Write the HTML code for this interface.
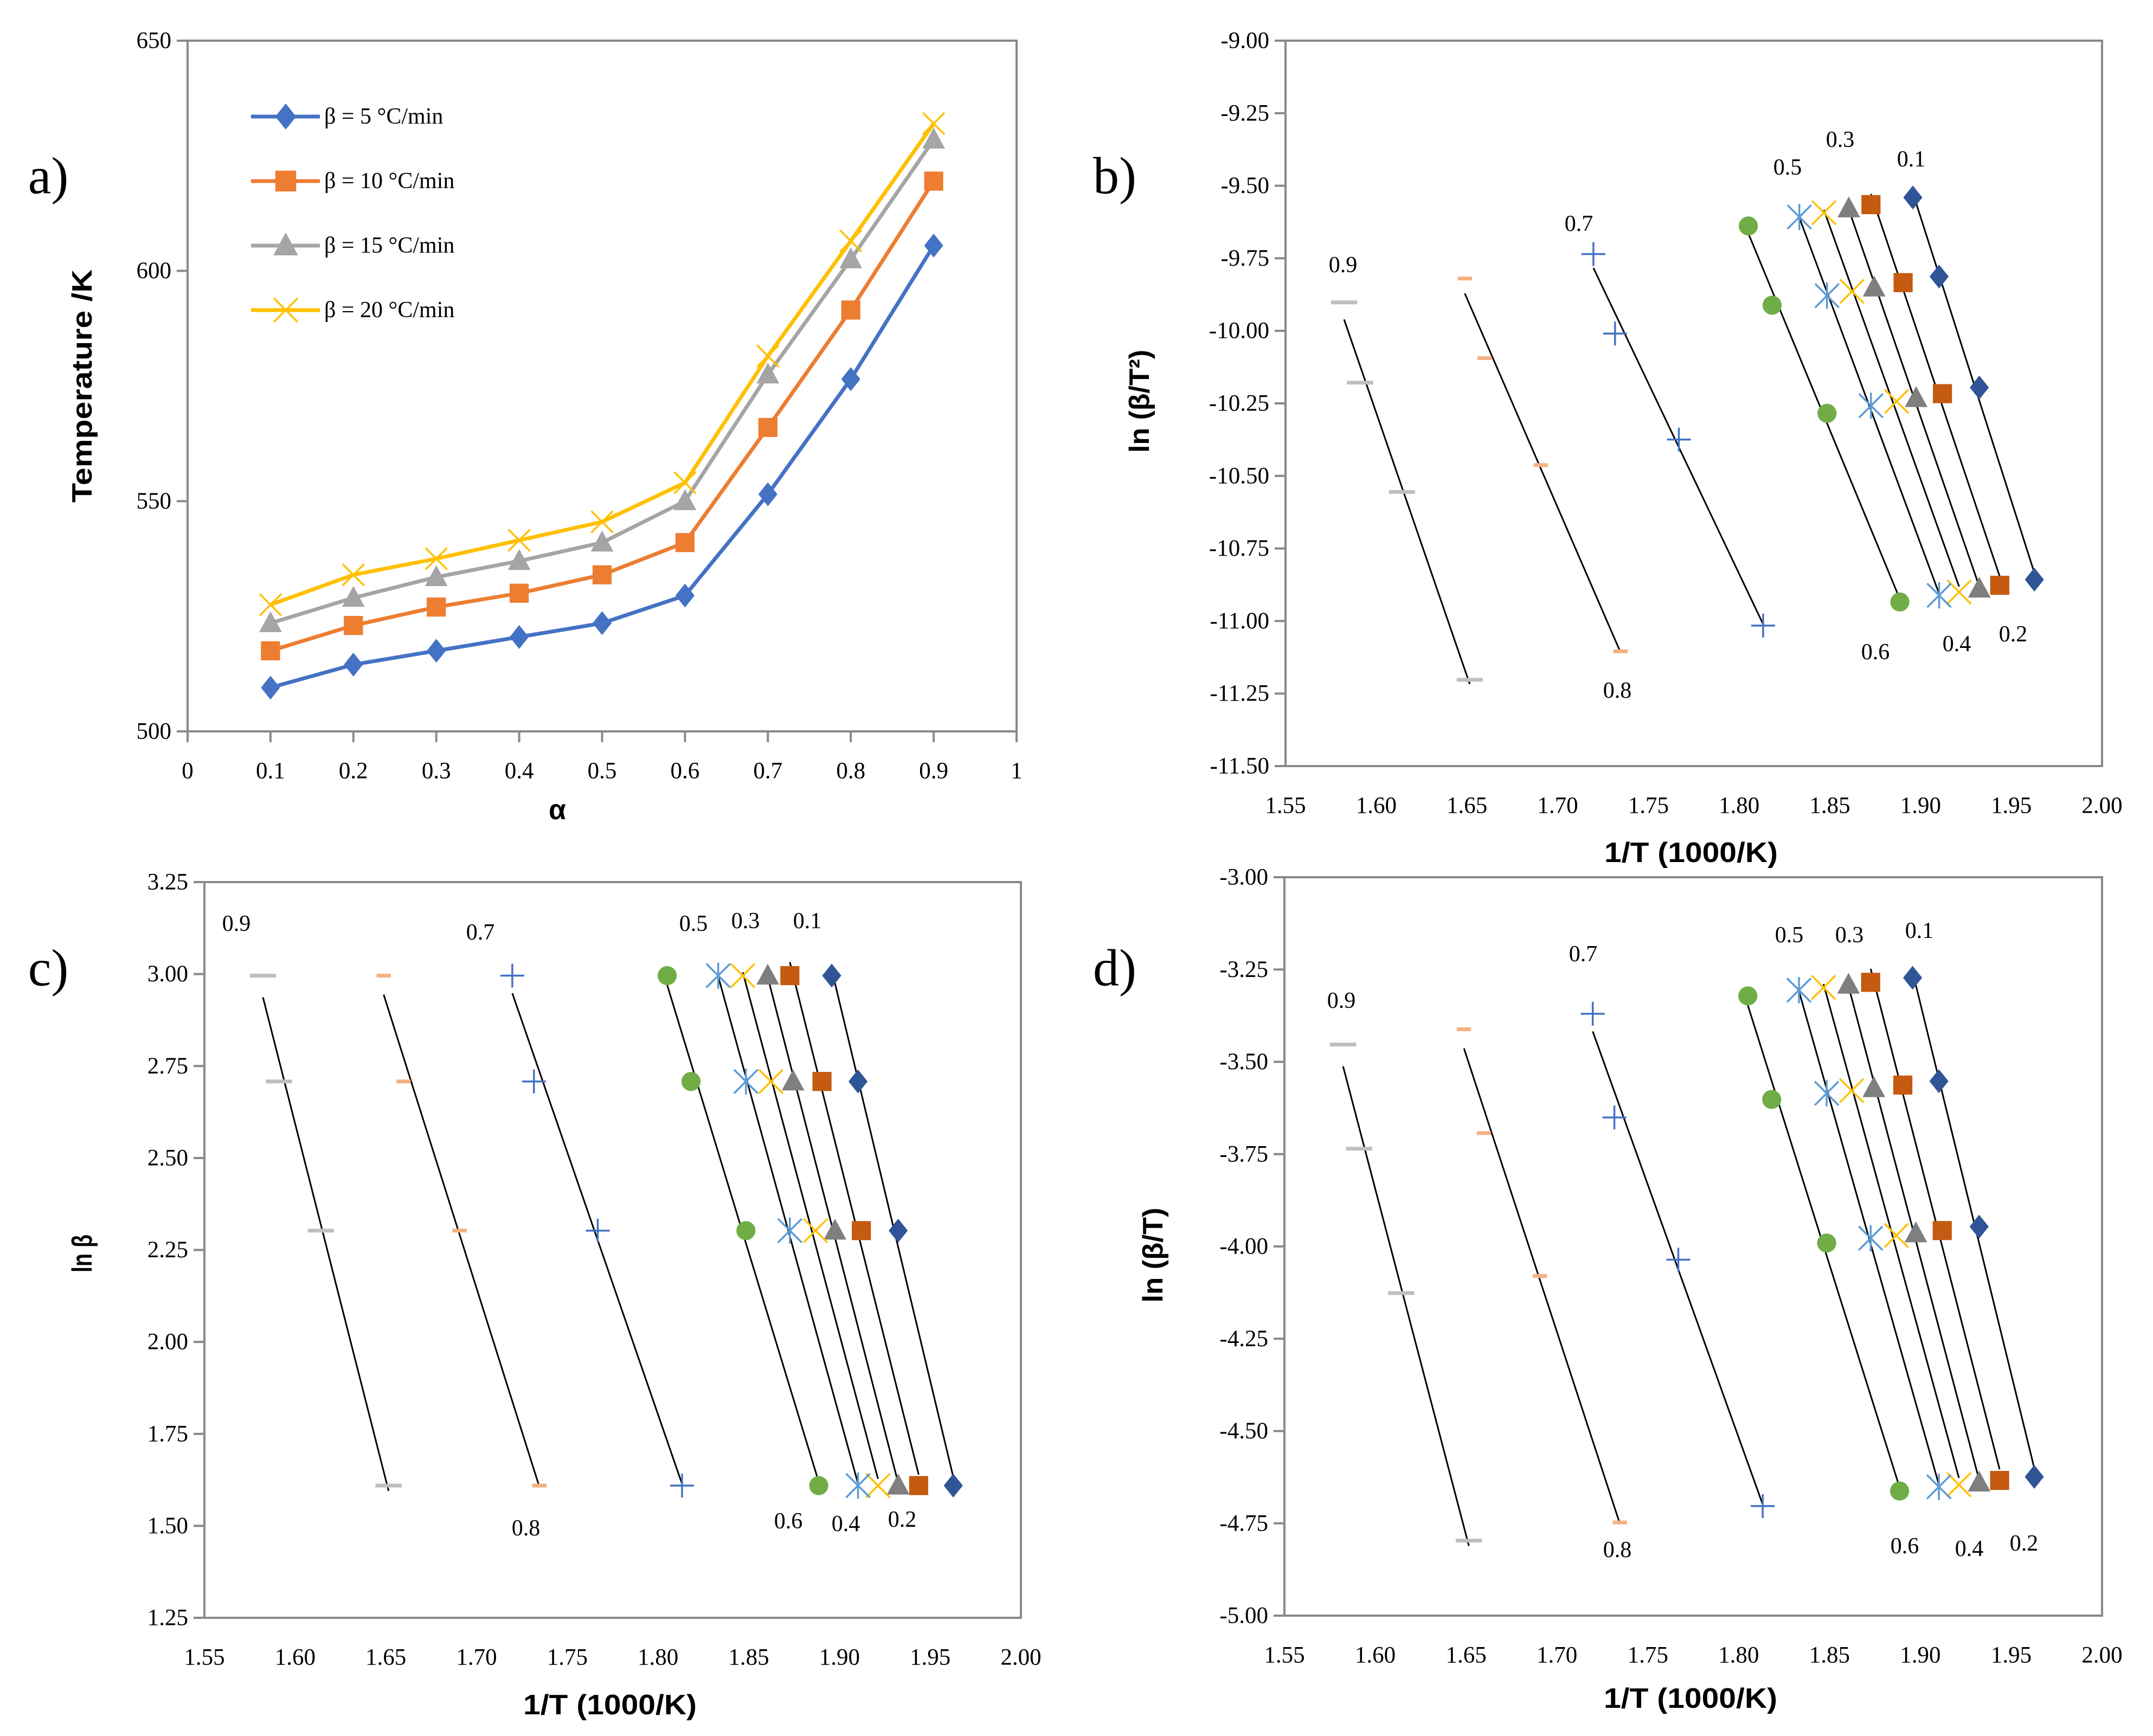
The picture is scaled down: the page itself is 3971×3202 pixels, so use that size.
<!DOCTYPE html>
<html>
<head>
<meta charset="utf-8">
<style>
  html,body{margin:0;padding:0;background:#fff;}
  svg{display:block;}
  .tick{font-family:"Liberation Serif",serif;font-size:43px;fill:#000;}
  .ttl{font-family:"Liberation Sans",sans-serif;font-weight:bold;font-size:52px;fill:#000;}
  .lbl{font-family:"Liberation Serif",serif;font-size:42px;fill:#000;}
  .pl{font-family:"Liberation Serif",serif;font-size:96px;fill:#000;}
</style>
</head>
<body>
<svg id="fig" width="3971" height="3202" viewBox="0 0 3971 3202" xmlns="http://www.w3.org/2000/svg">
  <rect x="0" y="0" width="3971" height="3202" fill="#fff"/>
</svg>
<script>
// ---- data ----
const alphas = [0.1, 0.2, 0.3, 0.4, 0.5, 0.6, 0.7, 0.8, 0.9];
const betas = [5, 10, 15, 20];
const temp5 = [509.5, 514.5, 517.5, 520.5, 523.5, 529.5, 551.5, 576.5, 605.5];
const temp10 = [517.5, 523, 527, 530, 534, 541, 566, 591.5, 619.5];
const temp15 = [523.5, 529, 533.5, 537, 541, 550, 577.5, 602.5, 628.5];
const temp20 = [527.5, 534, 537.5, 541.5, 545.5, 554, 581.5, 606.5, 632];
const legendLabels = ["β = 5 °C/min", "β = 10 °C/min", "β = 15 °C/min", "β = 20 °C/min"];
const aXTicks = [0, 0.1, 0.2, 0.3, 0.4, 0.5, 0.6, 0.7, 0.8, 0.9, 1];
const aYTicks = [500, 550, 600, 650];
const invTTicks = [1.55, 1.60, 1.65, 1.70, 1.75, 1.80, 1.85, 1.90, 1.95, 2.00];
const bYTicks = [-9.00, -9.25, -9.50, -9.75, -10.00, -10.25, -10.50, -10.75, -11.00, -11.25, -11.50];
const cYTicks = [3.25, 3.00, 2.75, 2.50, 2.25, 2.00, 1.75, 1.50, 1.25];
const dYTicks = [-3.00, -3.25, -3.50, -3.75, -4.00, -4.25, -4.50, -4.75, -5.00];
const alphaLabels = ["0.1","0.2","0.3","0.4","0.5","0.6","0.7","0.8","0.9"];

const temps = [temp5, temp10, temp15, temp20];
const NS = "http://www.w3.org/2000/svg";
const svg = document.getElementById('fig');

function el(tag, attrs, parent) {
  const e = document.createElementNS(NS, tag);
  for (const k in attrs) e.setAttribute(k, attrs[k]);
  (parent || svg).appendChild(e);
  return e;
}
function mkScale(d0, d1, r0, r1) { return v => r0 + (v - d0) / (d1 - d0) * (r1 - r0); }

const aColors = ["#4472C4", "#ED7D31", "#A5A5A5", "#FFC000"];
const aMarkers = ["diamond", "square", "triangle", "x"];
const kMarkers = ["diamond","square","triangle","x","star","circle","plus","dash","dash"];
const kColors = ["#2F5597","#C55A11","#7F7F7F","#FFC000","#5B9BD5","#70AD47","#4472C4","#F4B183","#BFBFBF"];

function marker(g, type, cx, cy, color, s, name) {
  let m;
  if (type === "diamond") {
    m = el('polygon', {points:`${cx},${cy-s} ${cx+s*0.8},${cy} ${cx},${cy+s} ${cx-s*0.8},${cy}`, fill:color}, g);
  } else if (type === "square") {
    m = el('rect', {x:cx-s*0.8, y:cy-s*0.8, width:s*1.6, height:s*1.6, fill:color}, g);
  } else if (type === "triangle") {
    m = el('polygon', {points:`${cx},${cy-s} ${cx+s*0.95},${cy+s*0.75} ${cx-s*0.95},${cy+s*0.75}`, fill:color}, g);
  } else if (type === "circle") {
    m = el('circle', {cx:cx, cy:cy, r:s*0.8, fill:color}, g);
  } else if (type === "x") {
    m = el('path', {d:`M${cx-s},${cy-s}L${cx+s},${cy+s}M${cx-s},${cy+s}L${cx+s},${cy-s}`, stroke:color, 'stroke-width':3.5, fill:'none'}, g);
  } else if (type === "star") {
    m = el('path', {d:`M${cx-s},${cy-s}L${cx+s},${cy+s}M${cx-s},${cy+s}L${cx+s},${cy-s}M${cx},${cy-s*1.1}L${cx},${cy+s*1.1}`, stroke:color, 'stroke-width':3.5, fill:'none'}, g);
  } else if (type === "plus") {
    m = el('path', {d:`M${cx-s},${cy}L${cx+s},${cy}M${cx},${cy-s}L${cx},${cy+s}`, stroke:color, 'stroke-width':3.5, fill:'none'}, g);
  } else {
    const w = color === "#BFBFBF" ? s*1.1 : s*0.6;
    m = el('rect', {x:cx-w, y:cy-3.5, width:w*2, height:7, fill:color}, g);
  }
  
  
  return m;
}

function frame(p, name) {
  const r = el('rect', {x:p.x0, y:p.y0, width:p.x1-p.x0, height:p.y1-p.y0, fill:'none', stroke:'#898989', 'stroke-width':4});
  
  
}
function text(x, y, s, cls, name, anchor, extra) {
  const t = el('text', Object.assign({x:x, y:y, class:cls, 'text-anchor':anchor||'middle', 'dominant-baseline':'central'}, extra||{}));
  t.textContent = s;
  
  
  return t;
}

// ---------- Panel a ----------
const A = {x0:346, x1:1875, y0:75, y1:1349};
const ax = mkScale(0, 1, A.x0, A.x1), ay = mkScale(500, 650, A.y1, A.y0);
frame(A, 'panel-a-plot-frame');
aYTicks.forEach(v => {
  el('line', {x1:A.x0-20, x2:A.x0, y1:ay(v), y2:ay(v), stroke:'#898989', 'stroke-width':4});
  text(A.x0-30, ay(v), String(v), 'tick', 'a-y-tick-label', 'end');
});
aXTicks.forEach(v => {
  el('line', {x1:ax(v), x2:ax(v), y1:A.y1, y2:A.y1+20, stroke:'#898989', 'stroke-width':4});
  text(ax(v), A.y1+73, String(v), 'tick', 'a-x-tick-label');
});
temps.forEach((ts, si) => {
  const g = el('g', {});
  
  
  const pts = ts.map((t, i) => ax(alphas[i]) + ',' + ay(t)).join(' ');
  const pl = el('polyline', {points:pts, fill:'none', stroke:aColors[si], 'stroke-width':7}, g);
  
  
  ts.forEach((t, i) => marker(g, aMarkers[si], ax(alphas[i]), ay(t), aColors[si], aMarkers[si]==='x'?20:22, 'point-beta-' + betas[si]));
});
// legend
legendLabels.forEach((s, i) => {
  const y = 215 + i * 119;
  const g = el('g', {});
  
  
  el('line', {x1:463, x2:590, y1:y, y2:y, stroke:aColors[i], 'stroke-width':7}, g);
  marker(g, aMarkers[i], 527, y, aColors[i], aMarkers[i]==='x'?22:24, 'legend-marker');
  const t = text(598, y, s, 'lbl', 'legend-label', 'start');
  g.appendChild(t);
});
text(152, 712, 'Temperature /K', 'ttl', 'a-y-axis-title', 'middle', {transform:'rotate(-90 152 712)', textLength:430, lengthAdjust:'spacingAndGlyphs'});
text(1028, 1494, 'α', 'ttl', 'a-x-axis-title');
text(89, 324, 'a)', 'pl', 'panel-label-a');

// ---------- Kinetic panels ----------
function kinetic(P, yd0, yd1, yTicks, yFn, yTitle, titlePos, titleLen, xTitleY, labels, plabel, plPos, key) {
  const sx = mkScale(1.55, 2.00, P.x0, P.x1), sy = mkScale(yd0, yd1, P.y1, P.y0);
  frame(P, key + '-plot-frame');
  yTicks.forEach(v => {
    el('line', {x1:P.x0-20, x2:P.x0, y1:sy(v), y2:sy(v), stroke:'#898989', 'stroke-width':4});
    text(P.x0-30, sy(v), v.toFixed(2), 'tick', key + '-y-tick-label', 'end');
  });
  invTTicks.forEach(v => text(sx(v), P.y1+73, v.toFixed(2), 'tick', key + '-x-tick-label'));
  alphas.forEach((a, ai) => {
    const g = el('g', {});
    
    
    const xs = [], ys = [];
    betas.forEach((b, bi) => {
      const T = temps[bi][ai];
      xs.push(1000 / T); ys.push(yFn(b, T));
    });
    const n = xs.length, mx = xs.reduce((s,v)=>s+v,0)/n, my = ys.reduce((s,v)=>s+v,0)/n;
    let sxy = 0, sxx = 0;
    for (let i = 0; i < n; i++) { sxy += (xs[i]-mx)*(ys[i]-my); sxx += (xs[i]-mx)*(xs[i]-mx); }
    const k = sxy / sxx, c0 = my - k * mx;
    const xmin = Math.min(...xs), xmax = Math.max(...xs);
    const tl = el('line', {x1:sx(xmin), y1:sy(k*xmin+c0), x2:sx(xmax), y2:sy(k*xmax+c0), stroke:'#000', 'stroke-width':3}, g);
    
    
    xs.forEach((x, i) => marker(g, kMarkers[ai], sx(x), sy(ys[i]), kColors[ai], 22, key + '-point'));
  });
  labels.forEach((p, i) => text(p[0], p[1], alphaLabels[i], 'lbl', key + '-alpha-label'));
  text(titlePos[0], titlePos[1], yTitle, 'ttl', key + '-y-axis-title', 'middle', {transform:`rotate(-90 ${titlePos[0]} ${titlePos[1]})`, textLength:titleLen, lengthAdjust:'spacingAndGlyphs'});
  text((P.x0+P.x1)/2 - 5, xTitleY, '1/T (1000/K)', 'ttl', key + '-x-axis-title', 'middle', {textLength:320, lengthAdjust:'spacingAndGlyphs'});
  text(plPos[0], plPos[1], plabel, 'pl', 'panel-label-' + key);
}

kinetic({x0:2371, x1:3877, y0:75, y1:1413}, -11.5, -9.0, bYTicks,
  (b, T) => Math.log(b / (T*T)), 'ln (β/T²)', [2102, 740], 190, 1573,
  [[3525,294],[3713,1170],[3394,258],[3609,1188],[3297,309],[3459,1203],[2912,413],[2983,1274],[2477,489]],
  'b)', [2056, 324], 'b');

kinetic({x0:377, x1:1883, y0:1627, y1:2984}, 1.25, 3.25, cYTicks,
  (b, T) => Math.log(b), 'ln β', [152, 2312], 70, 3145,
  [[1489,1699],[1664,2803],[1375,1699],[1560,2811],[1279,1704],[1454,2806],[886,1720],[970,2819],[436,1704]],
  'c)', [89, 1785], 'c');

kinetic({x0:2369, x1:3877, y0:1618, y1:2980}, -5.0, -3.0, dYTicks,
  (b, T) => Math.log(b / T), 'ln (β/T)', [2127, 2315], 175, 3133,
  [[3540,1717],[3733,2847],[3411,1725],[3632,2857],[3300,1725],[3513,2852],[2920,1760],[2983,2859],[2474,1846]],
  'd)', [2056, 1785], 'd');
</script>
</body>
</html>
